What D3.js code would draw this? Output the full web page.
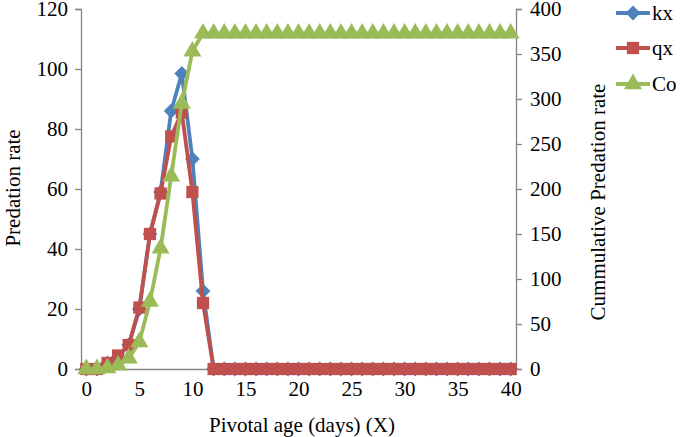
<!DOCTYPE html>
<html><head><meta charset="utf-8">
<script src="https://cdn.jsdelivr.net/npm/d3@7"></script>
<style>body{margin:0;background:#fff}svg{display:block}text{font-family:"Liberation Serif","Times New Roman",serif}</style>
</head><body>
<script>
const days = d3.range(0, 41);
const kx = [0,0,2,4,8,20,45,59,86,98.5,70,26,0,0,0,0,0,0,0,0,0,0,0,0,0,0,0,0,0,0,0,0,0,0,0,0,0,0,0,0,0];
const qx = [0,0,2,4.5,8,20.5,45,58.5,77.5,85.5,59,22,0,0,0,0,0,0,0,0,0,0,0,0,0,0,0,0,0,0,0,0,0,0,0,0,0,0,0,0,0];
const co = [0,0,1,4,12,30,75,134,214,295,353,373,373,373,373,373,373,373,373,373,373,373,373,373,373,373,373,373,373,373,373,373,373,373,373,373,373,373,373,373,373];
const xTicks = [0,5,10,15,20,25,30,35,40];
const leftTicks = [0,20,40,60,80,100,120];
const rightTicks = [0,50,100,150,200,250,300,350,400];
const seriesNames = ["kx","qx","Co"];
const colors = ["#4F81BD","#C0504D","#9BBB59"];

const W = 685, H = 437;
const svg = d3.select("body").append("svg").attr("width", W).attr("height", H);
const x = d3.scaleLinear().domain([-0.5, 40.5]).range([81, 516]);
const yL = d3.scaleLinear().domain([0, 120]).range([369, 9]);
const yR = d3.scaleLinear().domain([0, 400]).range([369, 9]);
const axisColor = "#868686";
const fs = "21px";

// axes
const gL = svg.append("g").attr("transform", "translate(81,0)")
  .call(d3.axisLeft(yL).tickValues(leftTicks).tickSize(6).tickPadding(7));
const gR = svg.append("g").attr("transform", "translate(516,0)")
  .call(d3.axisRight(yR).tickValues(rightTicks).tickSize(6).tickPadding(8));
const gB = svg.append("g").attr("transform", "translate(0,369)")
  .call(d3.axisBottom(x).tickValues(xTicks).tickSize(0).tickPadding(12));
[gL, gR, gB].forEach(g => {
  g.select(".domain").attr("stroke", axisColor).attr("stroke-width", 1.3);
  g.selectAll(".tick line").attr("stroke", axisColor).attr("stroke-width", 1.3);
  g.selectAll(".tick text").attr("fill", "#000").style("font-size", fs)
    .style("font-family", "'Liberation Serif', serif");
});
gB.select(".domain").attr("d", "M81,0.5H516");
gL.select(".domain").attr("d", "M-6,9.5H0.5V369.5H-6");
gR.select(".domain").attr("d", "M6,9.5H0.5V369.5H6");

// axis titles
svg.append("text").attr("transform", "translate(20,188) rotate(-90)")
  .attr("text-anchor", "middle").style("font-size", fs).text("Predation rate");
svg.append("text").attr("transform", "translate(605,202) rotate(-90)")
  .attr("text-anchor", "middle").style("font-size", fs).text("Cummulative Predation rate");
svg.append("text").attr("x", 302).attr("y", 432)
  .attr("text-anchor", "middle").style("font-size", fs).text("Pivotal age (days) (X)");

const symbols = [d3.symbol().type(d3.symbolDiamond2 || d3.symbolDiamond).size(140),
                 d3.symbol().type(d3.symbolSquare).size(150),
                 d3.symbol().type(d3.symbolTriangle).size(140)];
const data = [kx, qx, co];
const scales = [yL, yL, yR];

data.forEach((vals, i) => {
  const ys = scales[i];
  const g = svg.append("g");
  g.append("path").datum(vals)
    .attr("fill", "none").attr("stroke", colors[i]).attr("stroke-width", 3.8)
    .attr("stroke-linejoin", "round")
    .attr("d", d3.line().x((d, j) => x(days[j])).y(d => ys(d)));
  g.selectAll("path.m").data(vals).join("path").attr("class", "m")
    .attr("transform", (d, j) => `translate(${x(days[j])},${ys(d)})`)
    .attr("d", symbols[i]).attr("fill", colors[i]);
});

// legend
const legY = [13, 48, 84];
seriesNames.forEach((n, i) => {
  const g = svg.append("g").attr("transform", `translate(0,${legY[i]})`);
  g.append("line").attr("x1", 616).attr("x2", 650).attr("stroke", colors[i]).attr("stroke-width", 3.8);
  g.append("path").attr("transform", "translate(633,0)").attr("d", symbols[i]).attr("fill", colors[i]);
  g.append("text").attr("x", 652).attr("y", 7).style("font-size", fs).text(n);
});
</script>
</body></html>
